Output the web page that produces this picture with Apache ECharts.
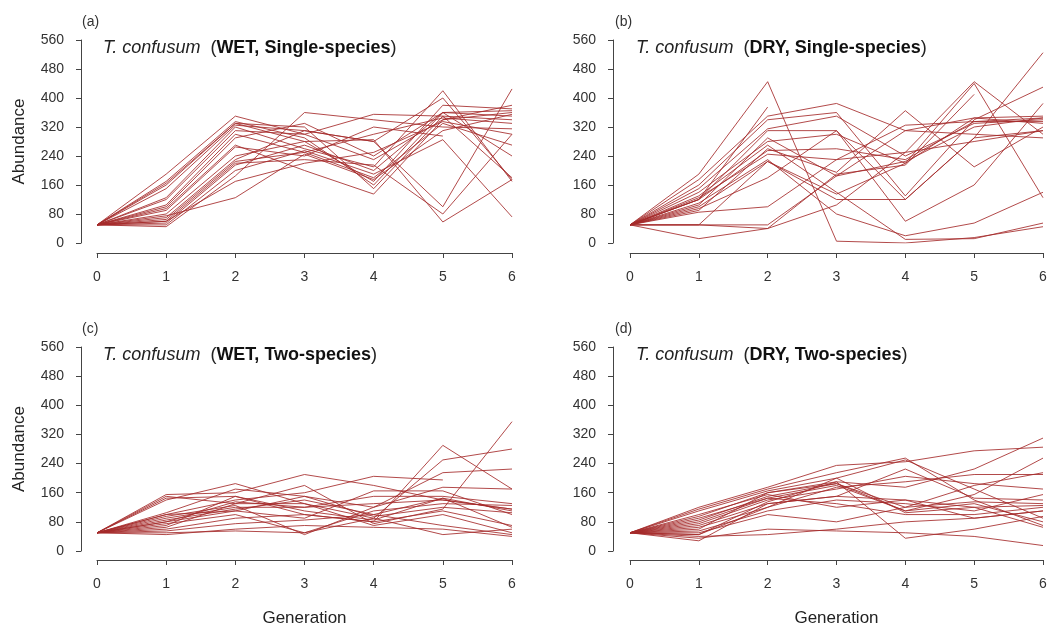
<!DOCTYPE html>
<html>
<head>
<meta charset="utf-8">
<script src="https://cdn.jsdelivr.net/npm/echarts@6/dist/echarts.min.js"></script>
<style>
  html, body { margin: 0; padding: 0; background: #fff; }
  #chart { width: 1050px; height: 629px; }
</style>
</head>
<body>
<div id="chart"></div>
<script>
// generations on the x axis
var generations = [0, 1, 2, 3, 4, 5, 6];

// abundance per replicate line, one row = one line, values at generation 0..6
var wetSingle = [
    [50, 190, 350, 300, 230, 340, 360],
    [50, 170, 335, 290, 160, 360, 350],
    [50, 165, 330, 320, 150, 350, 180],
    [50, 160, 330, 280, 170, 380, 370],
    [50, 150, 325, 310, 280, 400, 175],
    [50, 125, 320, 260, 210, 420, 170],
    [50, 120, 310, 300, 355, 350, 340],
    [50, 105, 300, 250, 300, 345, 330],
    [50, 100, 290, 330, 240, 360, 365],
    [50, 95, 270, 200, 135, 340, 380],
    [50, 90, 265, 240, 320, 295, null],
    [50, 80, 240, 280, 285, 58, 175],
    [50, 70, 230, 310, 280, 100, 425],
    [50, 65, 225, 250, 180, 330, 270],
    [50, 60, 220, 230, 215, 80, 300],
    [50, 55, 215, 270, 200, 360, 240],
    [50, 50, 200, 255, 190, 285, 72],
    [50, 45, 185, 360, 340, 320, 315],
    [50, 60, 170, 220, 250, 335, 300],
    [50, 75, 125, 245, 175, 310, 355]
];
var drySingle = [
    [50, 190, 445, 5, 0, 15, 45],
    [50, 120, 375, null, null, null, null],
    [50, 175, 350, 385, 310, 300, 290],
    [50, 160, 340, 360, 130, 340, 430],
    [50, 150, 315, 350, 240, 330, 340],
    [50, 120, 310, 310, 120, 290, 525],
    [50, 140, 280, 300, 220, 440, 125],
    [50, 130, 270, 140, 10, 12, 55],
    [50, 120, 255, 260, 230, 335, 345],
    [50, 110, 230, 80, 20, 55, 140],
    [50, 100, 225, 135, 220, 345, 330],
    [50, 95, 180, 310, 60, 160, 385],
    [50, 90, 260, 195, 365, 210, 320],
    [50, 85, 100, 230, 325, 335, 335],
    [50, 50, 40, 105, 250, 445, 300],
    [50, 12, 40, 190, 215, 410, null],
    [50, 50, 50, 185, 310, 345, 350],
    [50, 50, 225, 120, 120, 290, 310],
    [50, 105, 290, 185, 225, 320, 345],
    [50, 125, 245, 230, 250, 280, 310]
];
var wetTwo = [
    [50, 155, 160, 210, 180, 140, 115],
    [50, 150, 130, 180, 75, 115, 355],
    [50, 145, 150, 100, 80, 290, 170],
    [50, 140, 185, 130, 90, 250, 280],
    [50, 105, 170, 150, 120, 215, 225],
    [50, 100, 140, 160, 205, 195, null],
    [50, 95, 125, 45, 120, 175, 170],
    [50, 90, 120, 120, 150, 150, 130],
    [50, 85, 115, 140, 100, 145, 110],
    [50, 80, 110, 90, 165, 165, 100],
    [50, 75, 100, 50, 110, 130, 125],
    [50, 70, 150, 110, 85, 145, 65],
    [50, 65, 130, 130, 70, 100, 50],
    [50, 60, 90, 100, 80, 110, 70],
    [50, 55, 75, 85, 100, 70, 45],
    [50, 50, 55, 50, 90, 45, 60],
    [50, 45, 60, 70, 65, 60, 40],
    [50, 80, 135, 120, 130, 140, 115],
    [50, 100, 110, 150, 95, 120, 105]
];
var dryTwo = [
    [50, 120, 175, 235, 245, 275, 285],
    [50, 115, 170, 215, 255, 140, 70],
    [50, 110, 165, 200, 250, 170, 90],
    [50, 95, 160, 190, 175, 225, 310],
    [50, 85, 150, 185, 120, 180, 215],
    [50, 80, 145, 180, 110, 155, 255],
    [50, 75, 140, 170, 205, 185, 170],
    [50, 70, 130, 150, 225, 145, 140],
    [50, 65, 120, 200, 105, 120, 125],
    [50, 60, 160, 185, 110, 130, 80],
    [50, 55, 110, 140, 130, 110, 155],
    [50, 50, 100, 80, 120, 135, 130],
    [50, 45, 135, 190, 35, 60, 95],
    [50, 40, 45, 60, 80, 90, 110],
    [50, 35, 60, 55, 50, 40, 15],
    [50, 28, 130, 150, 140, 120, 65],
    [50, 90, 145, 130, 100, 100, 120],
    [50, 100, 155, 120, 140, 90, 110],
    [50, 45, 120, 175, 190, 210, 210]
];

var panels = [
    {tag: '(a)', cond: 'WET, Single-species', data: wetSingle},
    {tag: '(b)', cond: 'DRY, Single-species', data: drySingle},
    {tag: '(c)', cond: 'WET, Two-species', data: wetTwo},
    {tag: '(d)', cond: 'DRY, Two-species', data: dryTwo}
];

var FONT = '"Liberation Sans", Arial, sans-serif';
var AXIS_COLOR = '#444';
var LINE_COLOR = '#a52a2a';

// plot boxes (R style, axes pulled off the data region)
var boxes = [
    {left: 97, top: 40, width: 415, height: 203, xOff: 10, yOff: 16},
    {left: 630, top: 40, width: 413, height: 203, xOff: 10, yOff: 17},
    {left: 97, top: 347, width: 415, height: 204, xOff: 9, yOff: 16},
    {left: 630, top: 347, width: 413, height: 204, xOff: 9, yOff: 17}
];

var chart = echarts.init(document.getElementById('chart'));

var grid = [], xAxis = [], yAxis = [], title = [], series = [];

panels.forEach(function (p, i) {
    var b = boxes[i];
    grid.push({left: b.left, top: b.top, width: b.width, height: b.height});

    xAxis.push({
        type: 'value', gridIndex: i, min: 0, max: 6, interval: 1,
        offset: b.xOff,
        name: i >= 2 ? 'Generation' : '',
        nameLocation: 'middle', nameGap: 50,
        nameTextStyle: {fontFamily: FONT, fontSize: 17, color: '#222'},
        axisLine: {onZero: false, lineStyle: {color: AXIS_COLOR, width: 1}},
        axisTick: {length: 5, lineStyle: {color: AXIS_COLOR}},
        axisLabel: {margin: 17, fontFamily: FONT, fontSize: 14, color: '#333'},
        splitLine: {show: false}
    });

    yAxis.push({
        type: 'value', gridIndex: i, min: 0, max: 560, interval: 80,
        offset: b.yOff,
        name: i % 2 === 0 ? 'Abundance' : '',
        nameLocation: 'middle', nameGap: 53, nameRotate: 90,
        nameTextStyle: {fontFamily: FONT, fontSize: 17, color: '#222'},
        axisLine: {show: true, onZero: false, lineStyle: {color: AXIS_COLOR, width: 1}},
        axisTick: {show: true, length: 5, lineStyle: {color: AXIS_COLOR}},
        axisLabel: {margin: 17, fontFamily: FONT, fontSize: 14, color: '#333'},
        splitLine: {show: false}
    });

    title.push({
        text: p.tag, padding: 0,
        left: b.left - 15, top: b.top - 25,
        textStyle: {fontFamily: FONT, fontSize: 14, fontWeight: 'normal', color: '#333'}
    });
    title.push({
        text: '{i|T. confusum}  ({b|' + p.cond + '})', padding: 0,
        left: b.left + 6, top: b.top - 1,
        textStyle: {
            fontFamily: FONT, fontSize: 18, fontWeight: 'normal', color: '#222',
            rich: {
                i: {fontFamily: FONT, fontSize: 18, fontStyle: 'italic', color: '#222'},
                b: {fontFamily: FONT, fontSize: 18, fontWeight: 'bold', color: '#111'}
            }
        }
    });

    p.data.forEach(function (row) {
        series.push({
            type: 'line',
            xAxisIndex: i, yAxisIndex: i,
            data: row.map(function (v, k) { return [generations[k], v]; }),
            showSymbol: false, symbol: 'none',
            connectNulls: false,
            lineStyle: {color: LINE_COLOR, width: 1, opacity: 0.85},
            silent: true
        });
    });
});

chart.setOption({
    backgroundColor: '#fff',
    animation: false,
    title: title,
    grid: grid,
    xAxis: xAxis,
    yAxis: yAxis,
    series: series
});
</script>
</body>
</html>
